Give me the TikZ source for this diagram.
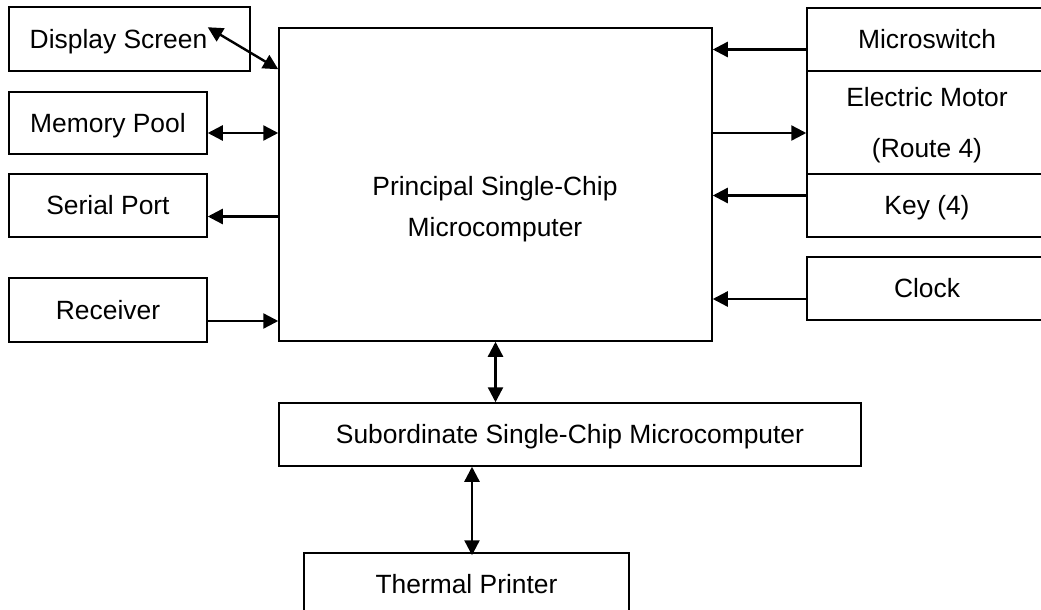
\documentclass[tikz,border=0pt]{standalone}
\usepackage{fontspec}
\setmainfont{Liberation Sans}
\usetikzlibrary{arrows.meta}
\begin{document}
\begin{tikzpicture}[x=1pt,y=-1pt,
  font=\fontsize{26.4pt}{31pt}\selectfont,
  box/.style={draw, line width=1.5pt, rectangle, inner sep=0pt, text height=18.9pt, text depth=0pt},
  arr/.style={-{Triangle[length=15pt,width=15pt]}, line width=2.4pt},
  dbl/.style={{Triangle[length=15pt,width=15pt]}-{Triangle[length=15pt,width=15pt]}, line width=2.4pt}]
\useasboundingbox (0,0) rectangle (1041,610);
% main box
\node[box, minimum width=433pt, minimum height=313pt] (main) at (495.5,184.5) {};
\node[align=center, inner sep=0pt, text height=59.9pt, text depth=0pt,
      font=\fontsize{26.4pt}{41pt}\selectfont] (mainlbl) at (495,207) {Principal Single-Chip\\Microcomputer};
% left column
\node[box, minimum width=241pt, minimum height=64pt] (disp) at (129.5,39) {Display Screen\hspace*{22pt}};
\node[box, minimum width=198pt, minimum height=62pt] (mem) at (108,123) {Memory Pool};
\node[box, minimum width=198pt, minimum height=63pt] (ser) at (108,205.5) {Serial Port};
\node[box, minimum width=198pt, minimum height=64pt] (rec) at (108,310) {Receiver};
% right column
\node[box, minimum width=240pt, minimum height=63pt] (msw) at (927,39.5) {Microswitch};
\node[box, minimum width=240pt, minimum height=103pt, align=center, text height=69.9pt, text depth=0pt,
      font=\fontsize{26.4pt}{51pt}\selectfont] (mot) at (927,122.5) {Electric Motor\\(Route 4)};
\node[box, minimum width=240pt, minimum height=63pt] (key) at (927,205.5) {Key (4)};
\node[box, minimum width=240pt, minimum height=63pt] (clk) at (927,288.5) {Clock};
% bottom
\node[box, minimum width=582pt, minimum height=63pt] (sub) at (570,434.5) {Subordinate Single-Chip Microcomputer};
\node[box, minimum width=325pt, minimum height=63pt] (thp) at (466.5,584.5) {Thermal Printer};
% left connectors
\coordinate (dsptip) at ([xshift=-43pt,yshift=-21pt]disp.north east);
\coordinate (mdsp) at ([yshift=-42pt]main.north west);
\draw[dbl] (dsptip) -- (mdsp);
\coordinate (m1) at ([yshift=-10pt]mem.east);
\draw[dbl] (m1) -- (m1 -| main.west);
\coordinate (s1) at ([yshift=-11pt]ser.east);
\draw[arr] (s1 -| main.west) -- (s1);
\coordinate (r1) at ([yshift=-11pt]rec.east);
\draw[arr] (r1) -- (r1 -| main.west);
% right connectors
\coordinate (w1) at ([yshift=-10pt]msw.west);
\draw[arr] (w1) -- (w1 -| main.east);
\coordinate (e1) at ([yshift=-10.5pt]mot.west);
\draw[arr] (e1 -| main.east) -- (e1);
\coordinate (k1) at ([yshift=10pt]key.west);
\draw[arr] (k1) -- (k1 -| main.east);
\coordinate (c1) at ([yshift=-10.5pt]clk.west);
\draw[arr] (c1) -- (c1 -| main.east);
% vertical connectors
\draw[dbl] (main.south) -- (main.south |- sub.north);
\coordinate (t1) at ([xshift=5.5pt,yshift=-3pt]thp.north);
\draw[dbl] (t1 |- sub.south) -- (t1);
\end{tikzpicture}
\end{document}
